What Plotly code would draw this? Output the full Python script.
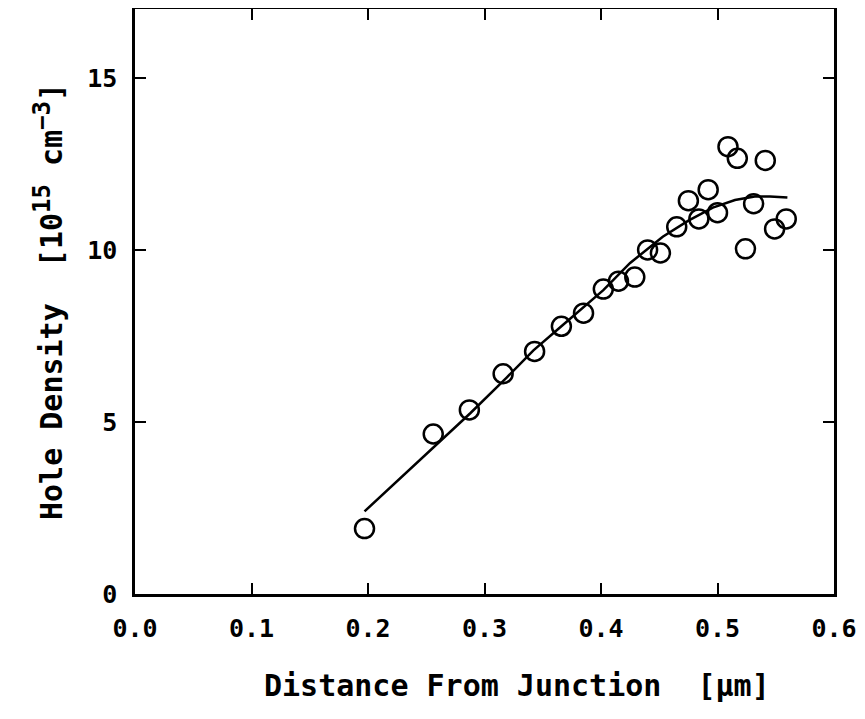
import plotly.graph_objects as go

# measured data points
dist_um = [0.197, 0.256, 0.287, 0.316, 0.343, 0.366, 0.385, 0.402, 0.415, 0.429,
           0.440, 0.451, 0.465, 0.475, 0.484, 0.492, 0.500, 0.509, 0.517, 0.524,
           0.531, 0.541, 0.549, 0.559]
hole_density = [1.90, 4.65, 5.35, 6.40, 7.05, 7.78, 8.16, 8.86, 9.09, 9.21,
                10.0, 9.91, 10.67, 11.43, 10.9, 11.75, 11.08, 13.0, 12.66, 10.03,
                11.34, 12.6, 10.61, 10.9]

# fitted curve
fit_x = [0.197, 0.230, 0.264, 0.288, 0.319, 0.342, 0.365, 0.402, 0.425, 0.453,
         0.475, 0.496, 0.515, 0.532, 0.545, 0.560]
fit_y = [2.4, 3.44, 4.50, 5.26, 6.29, 7.08, 7.75, 8.83, 9.62, 10.38,
         10.85, 11.23, 11.45, 11.55, 11.55, 11.52]

x_ticks = [0.0, 0.1, 0.2, 0.3, 0.4, 0.5, 0.6]
x_ticklabels = ["0.0", "0.1", "0.2", "0.3", "0.4", "0.5", "0.6"]
y_ticks = [0, 5, 10, 15]
y_ticklabels = ["0", "5", "10", "15"]

x_title = "Distance From Junction\u00a0\u00a0[μm]"
y_title = ("Hole Density\u00a0\u00a0[10<sup><span style='font-size:24px'>15</span></sup>"
           "\u00a0cm<sup><span style='font-size:24px'>−3</span></sup>]")

font_family = "DejaVu Sans Mono"

fig = go.Figure()
fig.add_trace(go.Scatter(x=fit_x, y=fit_y, mode="lines",
                         line=dict(color="black", width=2.5),
                         showlegend=False))
fig.add_trace(go.Scatter(x=dist_um, y=hole_density, mode="markers",
                         marker=dict(symbol="circle-open", size=19, color="black",
                                     line=dict(width=2.5, color="black")),
                         showlegend=False))

axis_common = dict(showgrid=False, zeroline=False, showline=True, linecolor="black",
                   linewidth=2.5, mirror="ticks", ticks="inside", tickcolor="black",
                   tickwidth=2, ticklen=11, automargin=False,
                   tickfont=dict(family=font_family, size=25, color="black", weight="bold"))

fig.update_layout(
    width=865, height=719,
    margin=dict(l=127, r=39, t=1, b=133),
    plot_bgcolor="white", paper_bgcolor="white",
    xaxis=dict(range=[0, 0.6], tickvals=x_ticks, ticktext=x_ticklabels,
               ticklabelstandoff=10, **axis_common),
    yaxis=dict(range=[0, 17], tickvals=y_ticks, ticktext=y_ticklabels,
               ticklabelstandoff=10,
               title=dict(text=y_title, standoff=16,
                          font=dict(family=font_family, size=30, color="black", weight="bold")),
               **axis_common),
)
fig.add_annotation(text=x_title, xref="paper", yref="paper", x=0.546, y=-0.156,
                   xanchor="center", yanchor="middle", showarrow=False,
                   font=dict(family=font_family, size=30, color="black", weight="bold"))

fig.write_html("out.html")
